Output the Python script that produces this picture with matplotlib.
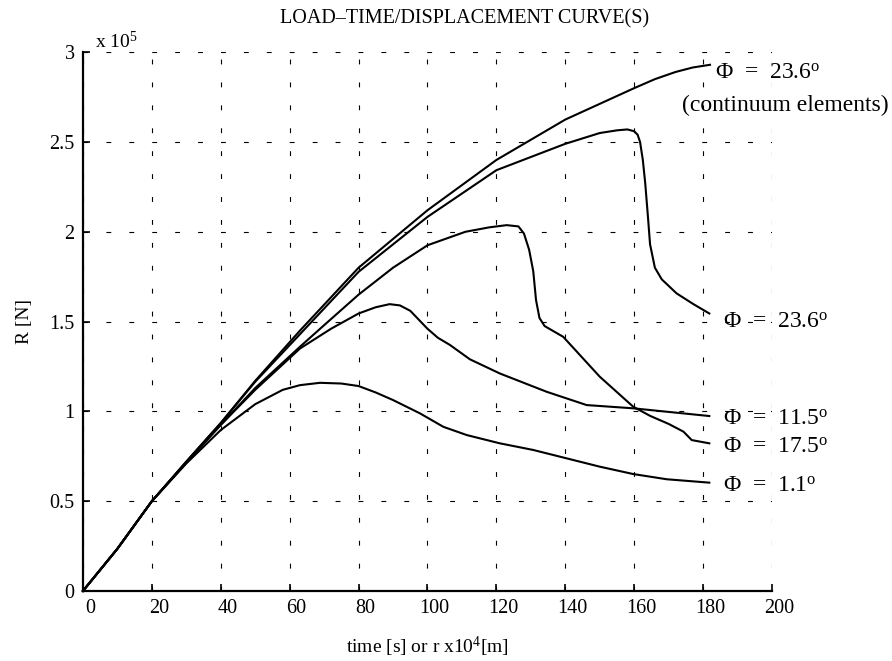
import matplotlib
matplotlib.use("Agg")
import matplotlib.pyplot as plt
import matplotlib.transforms as mtransforms

plt.rcParams["font.family"] = ["Liberation Serif", "DejaVu Serif"]
plt.rcParams["mathtext.fontset"] = "custom"
plt.rcParams["mathtext.rm"] = "Liberation Serif"
plt.rcParams["mathtext.it"] = "Liberation Serif:italic"
plt.rcParams["lines.scale_dashes"] = False

# values (R in units of 1e5 N)
x_cont = [0, 10, 20, 30, 40, 50, 63, 80, 100, 120, 140, 152, 160, 166, 172, 177, 182]
r_cont = [0, 0.235, 0.5, 0.72, 0.935, 1.17, 1.45, 1.80, 2.12, 2.40, 2.625, 2.73, 2.80,
          2.85, 2.89, 2.915, 2.93]

x_236 = [0, 10, 20, 30, 40, 50, 63, 80, 100, 120, 140, 150, 155, 158, 160, 161, 161.7,
         162.5, 163.2, 164, 164.6, 166, 168, 172.3, 177.2, 181.8]
r_236 = [0, 0.235, 0.5, 0.72, 0.935, 1.165, 1.43, 1.777, 2.083, 2.343, 2.49, 2.55, 2.565,
         2.57, 2.56, 2.54, 2.50, 2.40, 2.27, 2.08, 1.93, 1.80, 1.735, 1.657, 1.597, 1.545]

x_175 = [0, 10, 20, 30, 40, 50, 63, 70, 80, 90, 100, 111, 118, 123, 126.4, 128, 129.5,
         130.7, 131.5, 132.5, 134, 139.4, 150, 159.7, 164.6, 170, 174.3, 176.7, 181.8]
r_175 = [0, 0.235, 0.5, 0.715, 0.925, 1.13, 1.36, 1.48, 1.65, 1.80, 1.925, 2.0, 2.025,
         2.037, 2.03, 1.99, 1.90, 1.78, 1.62, 1.52, 1.475, 1.415, 1.193, 1.026, 0.975,
         0.93, 0.887, 0.84, 0.822]

x_115 = [0, 10, 20, 30, 40, 50, 63, 72, 80, 85, 89, 92, 95, 97.5, 100, 103, 106.5, 112.3,
         121, 134.6, 146.2, 159.7, 181.8]
r_115 = [0, 0.235, 0.5, 0.715, 0.925, 1.12, 1.35, 1.46, 1.545, 1.58, 1.597, 1.59, 1.56,
         1.51, 1.46, 1.41, 1.37, 1.29, 1.211, 1.109, 1.035, 1.017, 0.974]

x_11 = [0, 10, 20, 30, 40, 50, 58, 63, 68.8, 75, 80, 85, 90, 97.8, 104.6, 111.4, 121,
        130.7, 150, 159.7, 169.4, 181.8]
r_11 = [0, 0.235, 0.5, 0.71, 0.896, 1.04, 1.12, 1.146, 1.159, 1.155, 1.141, 1.105, 1.063,
        0.989, 0.914, 0.868, 0.822, 0.785, 0.692, 0.651, 0.622, 0.603]

curves = [(x_cont, r_cont), (x_236, r_236), (x_175, r_175), (x_115, r_115), (x_11, r_11)]

# curve labels: (x, y, text)
labels = [
    (183.5, 2.883, r"$\Phi$  =  23.6$^{\rm o}$"),
    (185.8, 1.497, r"$\Phi$  =  23.6$^{\rm o}$"),
    (185.8, 0.957, r"$\Phi$  =  11.5$^{\rm o}$"),
    (185.8, 0.801, r"$\Phi$  =  17.5$^{\rm o}$"),
    (185.8, 0.584, r"$\Phi$  =  1.1$^{\rm o}$"),
]

xticks = [0, 20, 40, 60, 80, 100, 120, 140, 160, 180, 200]
yticks = [0, 0.5, 1, 1.5, 2, 2.5, 3]
ytick_labels = ["0", "0.5", "1", "1.5", "2", "2.5", "3"]

fig = plt.figure(figsize=(8.92, 6.61), dpi=100)
ax = fig.add_axes([0.093, 0.106, 0.7725, 0.815])

for xs, rs in curves:
    ax.plot(xs, rs, color="black", linewidth=1.5, clip_on=False,
            solid_joinstyle="round")

ax.set_xlim(0, 200)
ax.set_ylim(0, 3)
ax.set_xticks(xticks)
ax.set_xticklabels([str(t) for t in xticks])
ax.set_yticks(yticks)
ax.set_yticklabels(ytick_labels)
ax.grid(True, color="black", linestyle=(0, (3.5, 13)), linewidth=0.8)
ax.set_axisbelow(True)

for side in ("top", "right"):
    ax.spines[side].set_visible(False)
for side in ("left", "bottom"):
    ax.spines[side].set_linewidth(1.6)
ax.tick_params(direction="in", length=5, width=1.2, labelsize=14.5, pad=6)

offset = mtransforms.ScaledTranslation(7 / 100, 0, fig.dpi_scale_trans)
for lbl in ax.xaxis.get_majorticklabels():
    lbl.set_transform(lbl.get_transform() + offset)

ax.set_xlabel(r"time [s] or r x10$^4$[m]", fontsize=14, labelpad=12)
ax.set_ylabel("R [N]", fontsize=14, labelpad=12)
ax.text(0.017, 1.0, r"x 10$^5$", transform=ax.transAxes, fontsize=14,
        ha="left", va="bottom")

for lx, ly, txt in labels:
    ax.text(lx, ly, txt, fontsize=17, ha="left", va="center", clip_on=False)
ax.text(204, 2.705, "(continuum elements)", fontsize=17, ha="center", va="center",
        clip_on=False)

fig.text(464.5 / 892, 1 - 19 / 661, "LOAD\u2013TIME/DISPLACEMENT CURVE(S)",
         fontsize=14.5, ha="center", va="center")

fig.savefig("out.png", dpi=100)
